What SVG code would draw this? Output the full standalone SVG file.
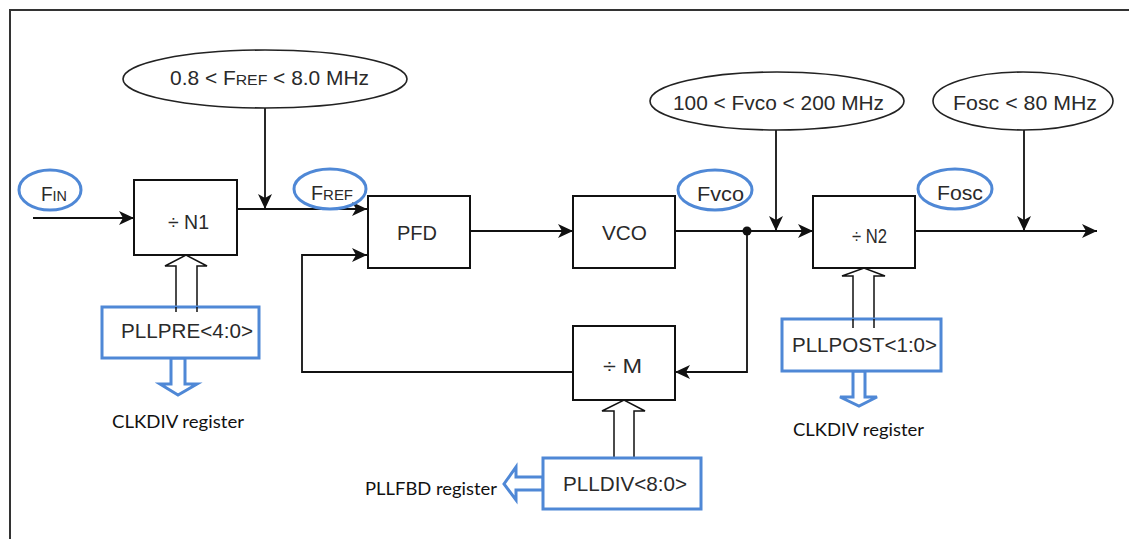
<svg xmlns="http://www.w3.org/2000/svg" width="1129" height="539" viewBox="0 0 1129 539">
<style>
.bg{fill:#ffffff}
.frame{fill:none;stroke:#333;stroke-width:2}
.box{fill:#ffffff;stroke:#111;stroke-width:2}
.ell{fill:#ffffff;stroke:#222;stroke-width:1.6}
.blueell{fill:none;stroke:#4f88d6;stroke-width:3}
.bluebox{fill:#ffffff;stroke:#4f88d6;stroke-width:3}
.bluearrow{fill:#ffffff;stroke:#4f88d6;stroke-width:3;stroke-linejoin:miter}
.wire{fill:none;stroke:#111;stroke-width:1.8}
.bus{fill:none;stroke:#111;stroke-width:1.5}
.t{font-family:"Liberation Sans",Arial,sans-serif;font-size:20.5px;fill:#2a2a2a}
.sm{font-size:15.5px}
.reg{font-family:Lato,"Open Sans",sans-serif;font-size:18px;fill:#111}
</style>
<defs>
<marker id="ah" markerUnits="userSpaceOnUse" markerWidth="16" markerHeight="14" refX="15" refY="7" orient="auto">
<path d="M0,0 L15,7 L0,14 L4,7 Z" fill="#111"/>
</marker>
</defs>
<rect class="bg" x="0" y="0" width="1129" height="539"/>
<polyline class="frame" points="10,539 10,10 1129,10"/>

<g id="connectors">
<line class="wire" x1="33" y1="218" x2="134" y2="218" marker-end="url(#ah)"/>
<line class="wire" x1="237" y1="209" x2="367" y2="209" marker-end="url(#ah)"/>
<line class="wire" x1="265" y1="108" x2="265" y2="209" marker-end="url(#ah)"/>
<polyline class="wire" points="573,372 302,372 302,255 367,255" marker-end="url(#ah)"/>
<line class="wire" x1="470" y1="231" x2="573" y2="231" marker-end="url(#ah)"/>
<line class="wire" x1="675" y1="231" x2="813" y2="231" marker-end="url(#ah)"/>
<circle cx="747" cy="231" r="4.5" fill="#111"/>
<polyline class="wire" points="747,231 747,372 675,372" marker-end="url(#ah)"/>
<line class="wire" x1="776" y1="130" x2="776" y2="231" marker-end="url(#ah)"/>
<line class="wire" x1="915" y1="231" x2="1097" y2="231" marker-end="url(#ah)"/>
<line class="wire" x1="1024" y1="130" x2="1024" y2="231" marker-end="url(#ah)"/>
<polyline class="bus" points="176,312 176,266 165,266 186,255 207,266 197,266 197,312"/>
<polyline class="bus" points="614,458 614,411 602,411 624,400 645,411 634,411 634,458"/>
<polyline class="bus" points="853,328 853,276 842,276 864,268 885,276 874,276 874,328"/>
<polygon class="bluearrow" points="171,358 171,384 160,384 178,395 197,384 185,384 185,358"/>
<polygon class="bluearrow" points="853,371 853,397 840,397 859,406 877,397 865,397 865,371"/>
<polygon class="bluearrow" points="543,477 516,477 516,467 504,484 516,500 516,490 543,490"/>
</g>

<g id="fref-range">
<ellipse class="ell" cx="265" cy="79" rx="142" ry="29"/>
<text class="t" x="170" y="85" textLength="199" lengthAdjust="spacingAndGlyphs">0.8 &lt; F<tspan class="sm">REF</tspan> &lt; 8.0 MHz</text>
</g>
<g id="fvco-range">
<ellipse class="ell" cx="777" cy="101" rx="127" ry="29"/>
<text class="t" x="673" y="110" textLength="211" lengthAdjust="spacingAndGlyphs">100 &lt; Fvco &lt; 200 MHz</text>
</g>
<g id="fosc-range">
<ellipse class="ell" cx="1023" cy="101" rx="90" ry="29"/>
<text class="t" x="953" y="110" textLength="144" lengthAdjust="spacingAndGlyphs">Fosc &lt; 80 MHz</text>
</g>

<g id="fin">
<ellipse class="blueell" cx="50" cy="190" rx="31" ry="20"/>
<text class="t" x="41" y="201" textLength="26" lengthAdjust="spacingAndGlyphs">F<tspan class="sm">IN</tspan></text>
</g>
<g id="fref">
<ellipse class="blueell" cx="330" cy="189" rx="36" ry="20"/>
<text class="t" x="311" y="200" textLength="42" lengthAdjust="spacingAndGlyphs">F<tspan class="sm">REF</tspan></text>
</g>
<g id="fvco">
<ellipse class="blueell" cx="715" cy="190" rx="37" ry="20"/>
<text class="t" x="697" y="201" textLength="47" lengthAdjust="spacingAndGlyphs">Fvco</text>
</g>
<g id="fosc">
<ellipse class="blueell" cx="955" cy="189" rx="37" ry="20"/>
<text class="t" x="937" y="200" textLength="46" lengthAdjust="spacingAndGlyphs">Fosc</text>
</g>

<g id="n1">
<rect class="box" x="134" y="180" width="103" height="75"/>
<text class="t" x="168" y="229" textLength="41" lengthAdjust="spacingAndGlyphs">÷ N1</text>
</g>
<g id="pfd">
<rect class="box" x="368" y="196" width="102" height="72"/>
<text class="t" x="397" y="240" textLength="40" lengthAdjust="spacingAndGlyphs">PFD</text>
</g>
<g id="vco">
<rect class="box" x="573" y="196" width="102" height="72"/>
<text class="t" x="602" y="240" textLength="45" lengthAdjust="spacingAndGlyphs">VCO</text>
</g>
<g id="n2">
<rect class="box" x="813" y="196" width="102" height="72"/>
<text class="t" x="852" y="243" textLength="35" lengthAdjust="spacingAndGlyphs">÷ N2</text>
</g>
<g id="m">
<rect class="box" x="573" y="326" width="102" height="74"/>
<text class="t" x="603" y="373" textLength="39" lengthAdjust="spacingAndGlyphs">÷ M</text>
</g>

<g id="pllpre">
<rect class="bluebox" x="102" y="307" width="157" height="51"/>
<line class="bus" x1="176" y1="307" x2="176" y2="312"/>
<line class="bus" x1="197" y1="307" x2="197" y2="312"/>
<text class="t" x="121" y="338" textLength="132" lengthAdjust="spacingAndGlyphs">PLLPRE&lt;4:0&gt;</text>
</g>
<g id="plldiv">
<rect class="bluebox" x="543" y="458" width="158" height="51"/>
<text class="t" x="563" y="491" textLength="124" lengthAdjust="spacingAndGlyphs">PLLDIV&lt;8:0&gt;</text>
</g>
<g id="pllpost">
<rect class="bluebox" x="782" y="319" width="159" height="52"/>
<line class="bus" x1="853" y1="319" x2="853" y2="328"/>
<line class="bus" x1="874" y1="319" x2="874" y2="328"/>
<text class="t" x="792" y="352" textLength="145" lengthAdjust="spacingAndGlyphs">PLLPOST&lt;1:0&gt;</text>
</g>

<g id="labels">
<text class="reg" x="112" y="428" textLength="132" lengthAdjust="spacingAndGlyphs">CLKDIV register</text>
<text class="reg" x="793" y="436" textLength="131" lengthAdjust="spacingAndGlyphs">CLKDIV register</text>
<text class="reg" x="365" y="495" textLength="132" lengthAdjust="spacingAndGlyphs">PLLFBD register</text>
</g>
</svg>
